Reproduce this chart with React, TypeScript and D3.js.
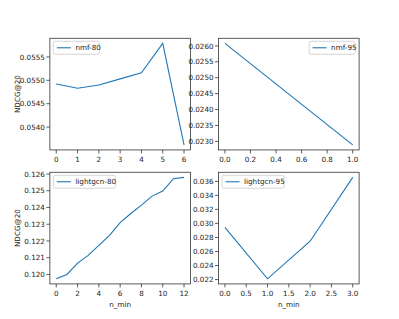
import React from 'react';
import * as d3 from 'd3';

// data
const nmf80X = [0, 1, 2, 3, 4, 5, 6];
const nmf80Y = [0.05492, 0.05483, 0.0549, 0.05503, 0.05516, 0.05579, 0.05362];
const nmf95X = [0, 1];
const nmf95Y = [0.02608, 0.02289];
const lgcn80X = [0, 1, 2, 3, 4, 5, 6, 7, 8, 9, 10, 11, 12];
const lgcn80Y = [0.11974, 0.12, 0.12068, 0.12114, 0.12174, 0.12234, 0.1231, 0.12364, 0.12414, 0.12468, 0.12498, 0.12572, 0.1258];
const lgcn95X = [0, 1, 2, 3];
const lgcn95Y = [0.02945, 0.0221, 0.02746, 0.03657];

const nmf80YTicks = [0.054, 0.0545, 0.055, 0.0555];
const nmf95YTicks = [0.023, 0.0235, 0.024, 0.0245, 0.025, 0.0255, 0.026];
const lgcn80YTicks = [0.12, 0.121, 0.122, 0.123, 0.124, 0.125, 0.126];
const lgcn95YTicks = [0.022, 0.024, 0.026, 0.028, 0.03, 0.032, 0.034, 0.036];
const nmf80XTicks = [0, 1, 2, 3, 4, 5, 6];
const nmf95XTicks = [0, 0.2, 0.4, 0.6, 0.8, 1.0];
const lgcn80XTicks = [0, 2, 4, 6, 8, 10, 12];
const lgcn95XTicks = [0, 0.5, 1, 1.5, 2, 2.5, 3];

const W = 399;
const H = 319;
const LINE = '#1f77b4';
const FONT = 'DejaVu Sans, sans-serif';

interface PanelProps {
  x0: number;
  y0: number;
  w: number;
  h: number;
  xs: number[];
  ys: number[];
  xTicks: number[];
  yTicks: number[];
  xFmt: (v: number) => string;
  yFmt: (v: number) => string;
  label: string;
  legendRight?: boolean;
  legendW: number;
  yLabel?: boolean;
  xLabel?: boolean;
}

function pad(ext: [number, number]): [number, number] {
  const m = (ext[1] - ext[0]) * 0.05;
  return [ext[0] - m, ext[1] + m];
}

function Panel(p: PanelProps) {
  const x = d3.scaleLinear().domain(pad(d3.extent(p.xs) as [number, number])).range([p.x0, p.x0 + p.w]);
  const y = d3.scaleLinear().domain(pad(d3.extent(p.ys) as [number, number])).range([p.y0 + p.h, p.y0]);
  const line = d3
    .line<number>()
    .x((_, i) => x(p.xs[i]))
    .y((d) => y(d));
  const lx = p.legendRight ? p.x0 + p.w - 4 - p.legendW : p.x0 + 3.5;
  const ly = p.y0 + 3;
  return (
    <g fontFamily={FONT}>
      <path d={line(p.ys) || ''} fill="none" stroke={LINE} strokeWidth={1.1} />
      <rect x={p.x0} y={p.y0} width={p.w} height={p.h} fill="none" stroke="#333" strokeWidth={0.8} />
      {p.xTicks.map((t) => (
        <g key={'x' + t}>
          <line x1={x(t)} x2={x(t)} y1={p.y0 + p.h} y2={p.y0 + p.h + 3.5} stroke="#333" strokeWidth={0.8} />
          <text x={x(t)} y={p.y0 + p.h + 12} fontSize={7.2} textAnchor="middle" fill="#222">
            {p.xFmt(t)}
          </text>
        </g>
      ))}
      {p.yTicks.map((t) => (
        <g key={'y' + t}>
          <line x1={p.x0 - 3.5} x2={p.x0} y1={y(t)} y2={y(t)} stroke="#333" strokeWidth={0.8} />
          <text x={p.x0 - 5} y={y(t) + 2.6} fontSize={7.2} textAnchor="end" fill="#222">
            {p.yFmt(t)}
          </text>
        </g>
      ))}
      <rect x={lx} y={ly} width={p.legendW} height={13} rx={2} fill="#fff" fillOpacity={0.8} stroke="#ccc" strokeWidth={0.8} />
      <line x1={lx + 3.5} x2={lx + 17.5} y1={ly + 6.5} y2={ly + 6.5} stroke={LINE} strokeWidth={1.1} />
      <text x={lx + 22} y={ly + 9.1} fontSize={7.2} fill="#222">
        {p.label}
      </text>
      {p.yLabel && (
        <text transform={`translate(${p.x0 - 30},${p.y0 + p.h / 2}) rotate(-90)`} fontSize={7.2} textAnchor="middle" fill="#222">
          NDCG@20
        </text>
      )}
      {p.xLabel && (
        <text x={p.x0 + p.w / 2} y={p.y0 + p.h + 23} fontSize={7.2} textAnchor="middle" fill="#222">
          n_min
        </text>
      )}
    </g>
  );
}

export default function App() {
  // matplotlib default subplot geometry
  const left = W * 0.125;
  const right = W * 0.9;
  const top = H * 0.12;
  const bottom = H * 0.89;
  const pw = (right - left) / 2.2;
  const ph = (bottom - top) / 2.2;
  const c2 = left + pw * 1.2;
  const r2 = top + ph * 1.2;
  const f4 = d3.format('.4f');
  const f3 = d3.format('.3f');
  const f1 = d3.format('.1f');
  const f0 = d3.format('d');
  return (
    <svg width={W} height={H} style={{ position: 'absolute', left: 0, top: 0, background: '#fff' }}>
      <rect width={W} height={H} fill="#fff" />
      <Panel x0={left} y0={top} w={pw} h={ph} xs={nmf80X} ys={nmf80Y} xTicks={nmf80XTicks} yTicks={nmf80YTicks}
        xFmt={f0} yFmt={f4} label="nmf-80" legendW={46} yLabel />
      <Panel x0={c2} y0={top} w={pw} h={ph} xs={nmf95X} ys={nmf95Y} xTicks={nmf95XTicks} yTicks={nmf95YTicks}
        xFmt={f1} yFmt={f4} label="nmf-95" legendW={46} legendRight />
      <Panel x0={left} y0={r2} w={pw} h={ph} xs={lgcn80X} ys={lgcn80Y} xTicks={lgcn80XTicks} yTicks={lgcn80YTicks}
        xFmt={f0} yFmt={f3} label="lightgcn-80" legendW={62} yLabel xLabel />
      <Panel x0={c2} y0={r2} w={pw} h={ph} xs={lgcn95X} ys={lgcn95Y} xTicks={lgcn95XTicks} yTicks={lgcn95YTicks}
        xFmt={f1} yFmt={f3} label="lightgcn-95" legendW={62} xLabel />
    </svg>
  );
}
